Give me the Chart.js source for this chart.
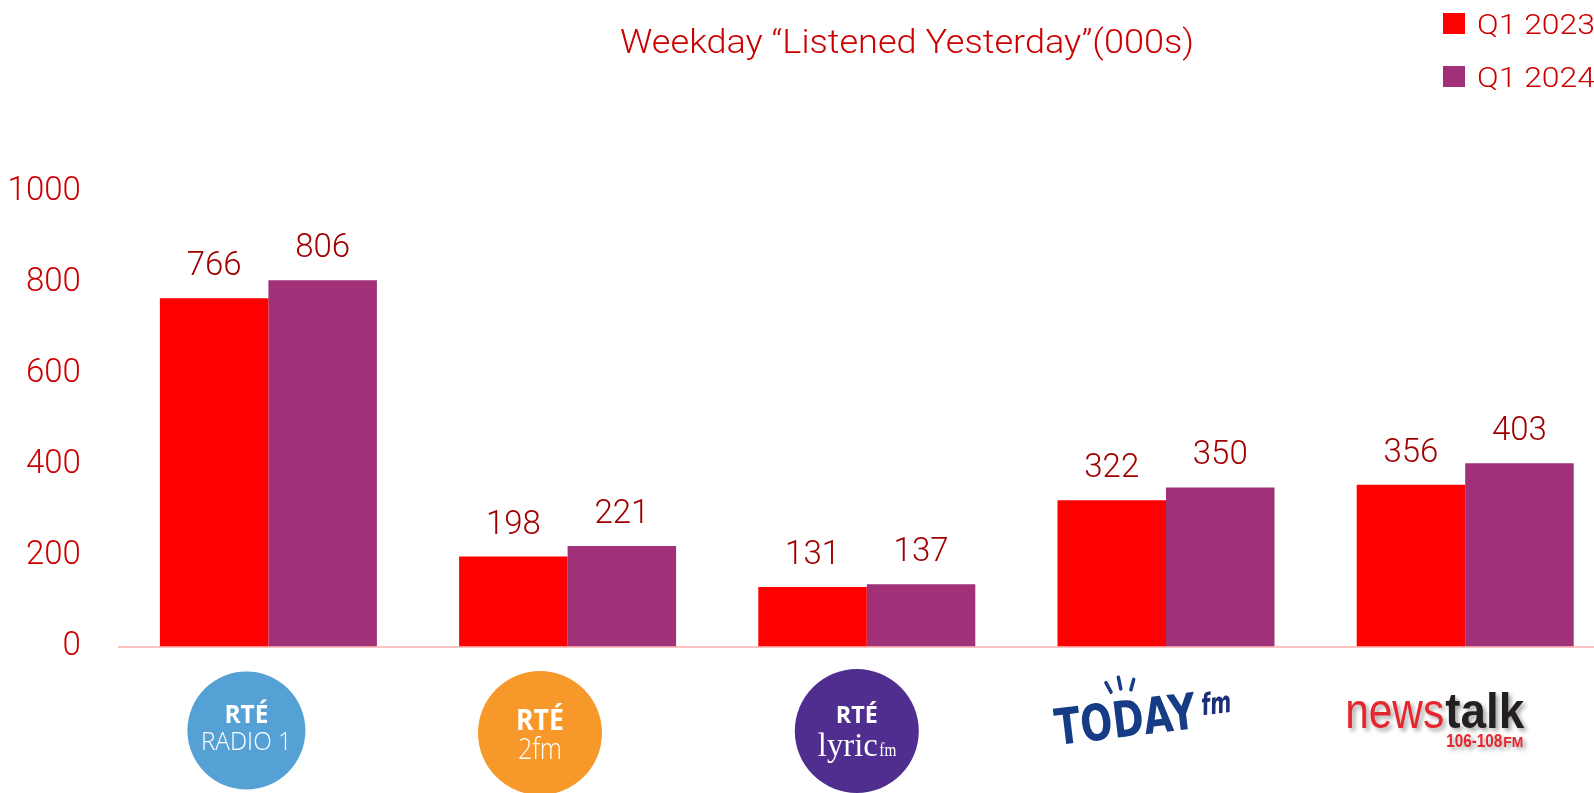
<!DOCTYPE html>
<html>
<head>
<meta charset="utf-8">
<script src="https://cdn.jsdelivr.net/npm/chart.js@4.4.0/dist/chart.umd.min.js"></script>
<style>
  body { margin: 0; overflow: hidden; background: #fff; }
  #wrap { width: 1620px; height: 793px; }
</style>
</head>
<body>
<div id="wrap"><canvas id="myChart" width="1620" height="793"></canvas></div>
<script>
'use strict';
let stations = ['RTÉ Radio 1', 'RTÉ 2fm', 'RTÉ lyric fm', 'Today FM', 'Newstalk'];
let seriesNames = ['Q1 2023', 'Q1 2024'];
let q1_2023 = [766, 198, 131, 322, 356];
let q1_2024 = [806, 221, 137, 350, 403];
let yTicks = [0, 200, 400, 600, 800, 1000];
let chartTitle = 'Weekday “Listened Yesterday”(000s)';

let seriesColors = ['#FF0000', '#A03078'];
let textRed = '#CC0000';
let labelRed = '#A00000';
let mainFont = 'Roboto';

// draw text squeezed / stretched to a given width
function fitText(ctx, text, x, y, width, font, color) {
  ctx.save();
  ctx.font = font;
  ctx.fillStyle = color;
  ctx.textAlign = 'left';
  ctx.textBaseline = 'alphabetic';
  let w = ctx.measureText(text).width;
  ctx.translate(x, y);
  ctx.scale(width / w, 1);
  ctx.fillText(text, 0, 0);
  ctx.restore();
}

function rteLogo(ctx, cx, cy, r, color, lines) {
  ctx.save();
  ctx.beginPath();
  ctx.arc(cx, cy, r, 0, Math.PI * 2);
  ctx.fillStyle = color;
  ctx.fill();
  lines.forEach(function (l) {
    fitText(ctx, l.text, cx - l.w / 2 + (l.dx || 0), l.y, l.w, l.font, '#FFFFFF');
  });
  ctx.restore();
}

// the station logos under each category
function drawLogo(ctx, i, x) {
  if (i === 0) {
    rteLogo(ctx, x - 22, 730.5, 59, '#55A1D6', [
      { text: 'RTÉ', y: 723, w: 44, font: 'bold 25px "Open Sans"' },
      { text: 'RADIO 1', y: 750, w: 91, font: '300 26px "Open Sans"' }
    ]);
  } else if (i === 1) {
    rteLogo(ctx, x - 27.6, 733, 62, '#F7982B', [
      { text: 'RTÉ', y: 730, w: 48, font: 'bold 28px "Open Sans"' },
      { text: '2fm', y: 759, w: 44, font: '300 30px "Open Sans"' }
    ]);
  } else if (i === 2) {
    rteLogo(ctx, x - 10, 731, 62, '#4F2E90', [
      { text: 'RTÉ', y: 723, w: 42, font: 'bold 24px "Open Sans"' },
      { text: 'lyric', y: 756, w: 60, font: '34px "Liberation Serif"', dx: -9 },
      { text: 'fm', y: 756, w: 17, font: '18px "Liberation Serif"', dx: 31 }
    ]);
  } else if (i === 3) {
    let lx = x - 109;
    ctx.save();
    ctx.translate(lx, 745);
    ctx.rotate(-0.12);
    fitText(ctx, 'TODAY', 0, 0, 142, 'bold 50px "DejaVu Sans"', '#173C86');
    fitText(ctx, 'fm', 148, -12, 30, 'bold italic 30px "DejaVu Sans"', '#1B2F78');
    ctx.strokeStyle = '#173C86';
    ctx.lineWidth = 3.5;
    ctx.lineCap = 'round';
    [[60, -46, 56, -56], [70, -48, 69, -60], [80, -46, 84, -56]].forEach(function (s) {
      ctx.beginPath();
      ctx.moveTo(s[0], s[1]);
      ctx.lineTo(s[2], s[3]);
      ctx.stroke();
    });
    ctx.restore();
  } else {
    let lx = x - 120;
    ctx.save();
    ctx.shadowColor = 'rgba(0,0,0,0.35)';
    ctx.shadowBlur = 4;
    ctx.shadowOffsetX = 3;
    ctx.shadowOffsetY = 3;
    fitText(ctx, 'news', lx, 728, 99, '50px "Liberation Sans"', '#E5262D');
    fitText(ctx, 'talk', lx + 100, 728, 79, 'bold 50px "Liberation Sans"', '#231F20');
    fitText(ctx, '106-108', lx + 101, 747, 56, 'bold 19px "Liberation Sans"', '#E5262D');
    fitText(ctx, 'FM', lx + 158, 747, 20, 'bold 14px "Liberation Sans"', '#E5262D');
    ctx.restore();
  }
}

let extrasPlugin = {
  id: 'extras',
  afterDatasetsDraw: function (chart) {
    let ctx = chart.ctx;
    ctx.save();
    ctx.font = '300 33px ' + mainFont;
    ctx.fillStyle = labelRed;
    ctx.textAlign = 'center';
    ctx.textBaseline = 'alphabetic';
    chart.data.datasets.forEach(function (ds, i) {
      chart.getDatasetMeta(i).data.forEach(function (bar, j) {
        ctx.fillText(ds.data[j], bar.x, bar.y - 23);
      });
    });
    ctx.restore();
  },
  afterDraw: function (chart) {
    let ctx = chart.ctx;
    // title
    fitText(ctx, chartTitle, 620, 53, 574, '300 33px ' + mainFont, textRed);
    // legend
    chart.data.datasets.forEach(function (ds, i) {
      let y = 13 + i * 53;
      ctx.fillStyle = ds.backgroundColor;
      ctx.fillRect(1443, y, 22, 21);
      fitText(ctx, ds.label, 1477, y + 20.5, 118, '300 28px ' + mainFont, textRed);
    });
    // logos
    let xs = chart.scales.x;
    chart.data.labels.forEach(function (lbl, i) {
      drawLogo(ctx, i, xs.getPixelForValue(i));
    });
  }
};

let ctx = document.getElementById('myChart').getContext('2d');
let chart = new Chart(ctx, {
  type: 'bar',
  data: {
    labels: stations,
    datasets: [
      { label: seriesNames[0], data: q1_2023, backgroundColor: seriesColors[0], borderWidth: 0 },
      { label: seriesNames[1], data: q1_2024, backgroundColor: seriesColors[1], borderWidth: 0 }
    ]
  },
  options: {
    responsive: false,
    devicePixelRatio: 1,
    animation: false,
    layout: { padding: { top: 192, right: 5.2, bottom: 0, left: 0 } },
    datasets: { bar: { categoryPercentage: 0.7253, barPercentage: 1.0 } },
    plugins: {
      legend: { display: false },
      title: { display: false },
      tooltip: { enabled: false }
    },
    scales: {
      x: {
        grid: { display: false, drawTicks: false },
        border: { color: '#FFC0C0', width: 2 },
        ticks: { display: false },
        afterFit: function (s) { s.height = 146.5; }
      },
      y: {
        min: yTicks[0],
        max: yTicks[yTicks.length - 1],
        grid: { display: false, drawTicks: false },
        border: { display: false },
        ticks: {
          stepSize: yTicks[1] - yTicks[0],
          padding: 38,
          color: textRed,
          font: { family: mainFont, weight: '300', size: 33 },
          callback: function (v) { return String(v); }
        },
        afterFit: function (s) { s.width = 118.8; }
      }
    }
  },
  plugins: [extrasPlugin]
});
</script>
</body>
</html>
